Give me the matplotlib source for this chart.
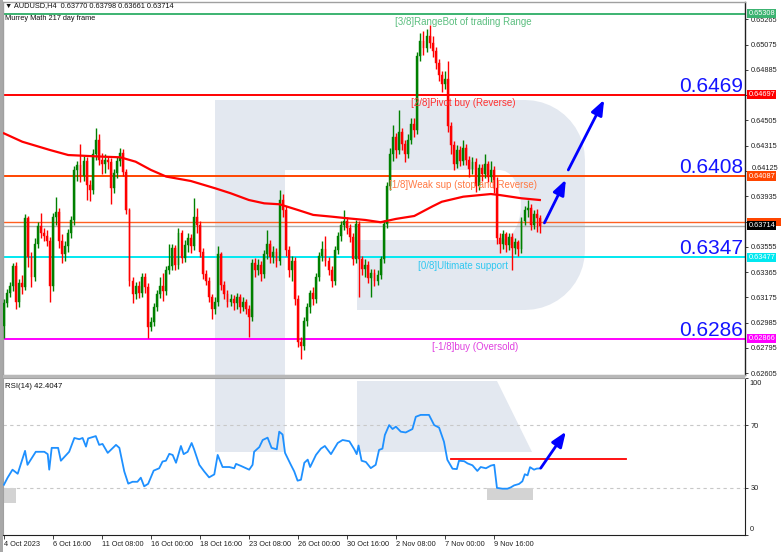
import matplotlib
matplotlib.use("Agg")
import matplotlib.pyplot as plt
from matplotlib.patches import Rectangle, Polygon
from matplotlib.transforms import Affine2D, blended_transform_factory
import numpy as np

# ---------------- data ----------------
first_open = 0.6296
closes = [0.6313, 0.6321, 0.6326, 0.6341, 0.6314, 0.6328, 0.6325, 0.6377, 0.6348, 0.6333,
          0.6358, 0.6371, 0.6366, 0.6364, 0.6360, 0.6326, 0.6378, 0.6382, 0.6360, 0.6350,
          0.6356, 0.6366, 0.6376, 0.6413, 0.6417, 0.6409, 0.6420, 0.6402, 0.6398, 0.6425,
          0.6436, 0.6421, 0.6418, 0.6421, 0.6419, 0.6400, 0.6411, 0.6420, 0.6426, 0.6412,
          0.6383, 0.6330, 0.6320, 0.6326, 0.6321, 0.6333, 0.6325, 0.6295, 0.6299, 0.6310,
          0.6320, 0.6326, 0.6322, 0.6338, 0.6341, 0.6355, 0.6342, 0.6366, 0.6347, 0.6357,
          0.6362, 0.6356, 0.6378, 0.6372, 0.6352, 0.6335, 0.6330, 0.6318, 0.6309, 0.6314,
          0.6350, 0.6327, 0.6320, 0.6314, 0.6316, 0.6313, 0.6318, 0.6310, 0.6314, 0.6309,
          0.6303, 0.6343, 0.6338, 0.6342, 0.6335, 0.6350, 0.6358, 0.6348, 0.6352, 0.6345,
          0.6391, 0.6383, 0.6353, 0.6338, 0.6345, 0.6316, 0.6284, 0.6281, 0.6300, 0.6310,
          0.6321, 0.6316, 0.6333, 0.6349, 0.6354, 0.6345, 0.6338, 0.6330, 0.6353, 0.6364,
          0.6372, 0.6375, 0.6370, 0.6363, 0.6346, 0.6373, 0.6346, 0.6339, 0.6342, 0.6332,
          0.6336, 0.6330, 0.6334, 0.6346, 0.6373, 0.6401, 0.6425, 0.6438, 0.6428, 0.6442,
          0.6433, 0.6425, 0.6436, 0.6448, 0.6443, 0.6499, 0.6510, 0.6505, 0.6514, 0.6509,
          0.6503, 0.6494, 0.6485, 0.6478, 0.6482, 0.6446, 0.6432, 0.6418, 0.6428, 0.6420,
          0.6430, 0.6421, 0.6414, 0.6419, 0.6401, 0.6415, 0.6410, 0.6418, 0.6408, 0.6413,
          0.6400, 0.6362, 0.6358, 0.6365, 0.6357, 0.6363, 0.6355, 0.6359, 0.6354, 0.6375,
          0.6383, 0.6385, 0.6372, 0.6380, 0.6377, 0.63714]
highs = [0.6316, 0.6324, 0.6329, 0.6343, 0.6344, 0.6331, 0.6334, 0.6380, 0.6379, 0.6352,
         0.6362, 0.6374, 0.6381, 0.6370, 0.6368, 0.6363, 0.6381, 0.6393, 0.6385, 0.6365,
         0.6360, 0.6369, 0.6379, 0.6416, 0.6420, 0.6433, 0.6424, 0.6423, 0.6406, 0.6429,
         0.6445, 0.6440, 0.6426, 0.6425, 0.6424, 0.6422, 0.6414, 0.6423, 0.6430, 0.6429,
         0.6414, 0.6385, 0.6333, 0.6329, 0.6330, 0.6336, 0.6336, 0.6328, 0.6303, 0.6313,
         0.6323, 0.6333, 0.6336, 0.6341, 0.6358, 0.6358, 0.6357, 0.6370, 0.6368, 0.6361,
         0.6366, 0.6365, 0.6392, 0.6385, 0.6375, 0.6355, 0.6338, 0.6333, 0.6320, 0.6318,
         0.6356, 0.6352, 0.6330, 0.6323, 0.6320, 0.6319, 0.6321, 0.6320, 0.6318, 0.6316,
         0.6312, 0.6346, 0.6347, 0.6346, 0.6345, 0.6353, 0.6368, 0.6361, 0.6356, 0.6355,
         0.6398, 0.6395, 0.6386, 0.6356, 0.6349, 0.6348, 0.6319, 0.6288, 0.6303, 0.6313,
         0.6323, 0.6325, 0.6336, 0.6352, 0.6360, 0.6364, 0.6348, 0.6341, 0.6356, 0.6367,
         0.6375, 0.6383, 0.6378, 0.6373, 0.6366, 0.6376, 0.6375, 0.6349, 0.6346, 0.6345,
         0.6339, 0.6339, 0.6338, 0.6349, 0.6376, 0.6404, 0.6430, 0.6447, 0.6441, 0.6458,
         0.6445, 0.6436, 0.6440, 0.6452, 0.6452, 0.6502, 0.6516, 0.6518, 0.6519, 0.6522,
         0.6514, 0.6506, 0.6497, 0.6488, 0.6488, 0.6495, 0.6449, 0.6435, 0.6432, 0.6431,
         0.6436, 0.6433, 0.6424, 0.6423, 0.6422, 0.6418, 0.6418, 0.6425, 0.6420, 0.6420,
         0.6416, 0.6408, 0.6366, 0.6368, 0.6367, 0.6366, 0.6366, 0.6362, 0.6361, 0.6378,
         0.6386, 0.6391, 0.6388, 0.6383, 0.6384, 0.63798]
lows = [0.6287, 0.6310, 0.6318, 0.6322, 0.6309, 0.6310, 0.6320, 0.6323, 0.6340, 0.6325,
        0.6330, 0.6355, 0.6362, 0.6360, 0.6356, 0.6314, 0.6322, 0.6372, 0.6355, 0.6343,
        0.6345, 0.6352, 0.6362, 0.6372, 0.6405, 0.6404, 0.6405, 0.6391, 0.6390, 0.6395,
        0.6421, 0.6417, 0.6410, 0.6411, 0.6414, 0.6388, 0.6396, 0.6407, 0.6416, 0.6409,
        0.6380, 0.6326, 0.6313, 0.6316, 0.6317, 0.6318, 0.6321, 0.6287, 0.6292, 0.6296,
        0.6307, 0.6317, 0.6315, 0.6319, 0.6335, 0.6338, 0.6338, 0.6339, 0.6343, 0.6344,
        0.6352, 0.6351, 0.6353, 0.6366, 0.6348, 0.6331, 0.6327, 0.6314, 0.6301, 0.6305,
        0.6311, 0.6323, 0.6316, 0.6310, 0.6311, 0.6308, 0.6309, 0.6306, 0.6307, 0.6305,
        0.6288, 0.6300, 0.6333, 0.6334, 0.6330, 0.6332, 0.6346, 0.6343, 0.6343, 0.6340,
        0.6342, 0.6378, 0.6349, 0.6333, 0.6330, 0.6312, 0.6280, 0.6271, 0.6278, 0.6296,
        0.6306, 0.6312, 0.6313, 0.6330, 0.6345, 0.6341, 0.6334, 0.6325, 0.6327, 0.6350,
        0.6360, 0.6368, 0.6365, 0.6359, 0.6342, 0.6343, 0.6318, 0.6334, 0.6333, 0.6328,
        0.6318, 0.6326, 0.6327, 0.6331, 0.6343, 0.6370, 0.6398, 0.6420, 0.6422, 0.6425,
        0.6428, 0.6419, 0.6422, 0.6433, 0.6438, 0.6440, 0.6495, 0.6500, 0.6502, 0.6505,
        0.6498, 0.6489, 0.6480, 0.6472, 0.6474, 0.6442, 0.6425, 0.6413, 0.6415, 0.6416,
        0.6417, 0.6417, 0.6408, 0.6410, 0.6397, 0.6398, 0.6405, 0.6407, 0.6404, 0.6404,
        0.6396, 0.6358, 0.6351, 0.6354, 0.6352, 0.6353, 0.6338, 0.6350, 0.6349, 0.6351,
        0.6372, 0.6378, 0.6368, 0.6369, 0.6367, 0.63661]

ma_idx = [0, 6, 15, 21, 32, 38, 43, 48, 53, 61, 69, 74, 80, 85, 90, 96, 101, 107, 112,
          118, 123, 128, 134, 140, 143, 150, 159, 162, 169, 175]
ma_val = [0.64408, 0.64345, 0.64283, 0.64245, 0.64233, 0.64228, 0.64195, 0.64133, 0.64083,
          0.64050, 0.63995, 0.63958, 0.63907, 0.63882, 0.63875, 0.63832, 0.63795, 0.63782,
          0.63770, 0.63757, 0.63740, 0.63765, 0.63787, 0.63860, 0.63894, 0.63932, 0.63952,
          0.63944, 0.63920, 0.63907]

rsi_idx = [0, 1.2, 2.8, 4.5, 6.9, 7.7, 10.4, 13.2, 14.3, 14.8, 15.6, 17.7, 18.6, 21.3, 23,
           24.6, 25.7, 26.8, 27.5, 30, 31.1, 32.2, 33.9, 36.6, 37.7, 39.3, 40.6, 42, 43.6,
           44.7, 45.8, 47.1, 48.9, 50.7, 51.8, 52.9, 54, 55.1, 56.2, 57.8, 58.7, 60, 61.3,
           62.1, 63.8, 65.4, 67, 68.7, 69.8, 71.4, 73.6, 75.2, 75.8, 77.4, 80.1, 81.2, 81.7,
           83.4, 84.5, 86.1, 87.4, 89.1, 89.9, 91, 91.8, 93.7, 94.8, 95.9, 97, 98.1, 99.2,
           100, 101.9, 103.5, 104.8, 106.8, 109, 110.6, 112.8, 114.4, 115.2, 115.8, 116.8,
           118.2, 119.8, 121.4, 122.5, 123.6, 124.4, 125.8, 126.9, 128, 129.6, 131.2, 133.4,
           134.5, 136.1, 138.8, 140.5, 142.1, 143.7, 144.8, 146.5, 147.9, 148.6, 150.3,
           151.4, 153, 154.6, 155.7, 157.4, 159, 160.1, 161, 162.8, 164.4, 165.5, 166.6,
           168.2, 169.3, 170.1, 171, 171.8, 173.1, 174, 175]
rsi_val = [32, 36.5, 41.6, 39, 53.6, 44.7, 53, 53, 51.5, 41.6, 55.5, 55.5, 47.3, 53, 61.8,
           61, 61.8, 56.3, 61.5, 63, 57.4, 58, 52.3, 57.4, 55.5, 40.5, 32.7, 33.9, 33.9,
           36.5, 31, 32.6, 41, 42.5, 46.8, 47.3, 51.7, 51, 46, 56.7, 51.5, 53, 58.6,
           54.6, 44.7, 40.5, 36.7, 38.6, 51, 43.3, 43.3, 42.5, 45.3, 44, 41.6, 44.7, 53,
           56, 60.5, 62, 55.5, 54.6, 65.8, 64, 52.3, 44.7, 40.5, 34.6, 35.2, 46, 48,
           43.3, 51, 55, 56.7, 51.5, 58.6, 60.5, 59.7, 54.6, 51.5, 57, 47.3,
           46.5, 42.6, 44.7, 54.2, 55, 63.7, 70, 67.5, 69, 65.8, 65.3, 67.5,
           75.3, 76.5, 76.5, 70, 68.4, 59.4, 47.9, 42.2, 42, 47.3, 47,
           45.6, 44.4, 40.8, 43.3, 42.5, 44.2, 44.7, 30, 29.5, 29.5, 30.3, 31.6,
           32.5, 34.2, 38.7, 38, 43.2, 41.6, 42.3, 42.4]

murrey_prices = [0.65308, 0.64697, 0.64087, 0.63477, 0.62866]
murrey_texts = ["[3/8]RangeBot of trading Range", "[2/8]Pivot buy (Reverse)",
                "[1/8]Weak sup (stop and Reverse)", "[0/8]Ultimate support",
                "[-1/8]buy (Oversold)"]
murrey_line_colors = ["#3cb371", "#ff0000", "#ff4500", "#00e8f0", "#ff00ff"]
murrey_text_colors = ["#5cbf80", "#ff3030", "#ff7a45", "#30c8f0", "#e040e0"]
murrey_label_x = [150, 150, 150, 150, 154]
murrey_box_labels = ["0.65308", "0.64697", "0.64087", "0.63477", "0.62866"]

big_labels = ["0.6469", "0.6408", "0.6347", "0.6286"]
big_label_prices = [0.64697, 0.64087, 0.63477, 0.62866]

# price axis ticks (0.64695 and 0.63745 are hidden under level boxes in the reference)
price_tick_vals = [0.62605, 0.62795, 0.62985, 0.63175, 0.63365, 0.63555, 0.63745, 0.63935,
                   0.64125, 0.64315, 0.64505, 0.64695, 0.64885, 0.65075, 0.65265]
price_tick_labels = ["0.62605", "0.62795", "0.62985", "0.63175", "0.63365", "0.63555",
                     "", "0.63935", "", "0.64315", "0.64505", "",
                     "0.64885", "0.65075", "0.65265"]
squeezed_tick_val = 0.64125
squeezed_tick_label = "0.64125"

orange_level = 0.63742
bid_level = 0.63714

date_tick_idx = [0, 16, 32, 48, 64, 80, 96, 112, 128, 144, 160]
date_tick_labels = ["4 Oct 2023", "6 Oct 16:00", "11 Oct 08:00", "16 Oct 00:00",
                    "18 Oct 16:00", "23 Oct 08:00", "26 Oct 00:00", "30 Oct 16:00",
                    "2 Nov 08:00", "7 Nov 00:00", "9 Nov 16:00"]

arrow_main = [((176.5, 0.63735), (183.5, 0.64060)), ((184.3, 0.64133), (196.0, 0.64660))]
arrow_rsi = ((175.3, 42.6), (183.5, 65.8))
rsi_hline = (146, 203, 48.5)
rsi_boxes = [(-0.3, 3.9, 20.6, 30.0), (157.7, 172.7, 22.0, 30.0)]

# ---------------- figure ----------------
W, H = 782, 552
fig = plt.figure(figsize=(W / 100, H / 100), dpi=100)
fig.patch.set_facecolor("white")
TXT = ["Liberation Sans", "DejaVu Sans"]


def fx(px):
    return px / W


def fy(py):
    return 1 - py / H


ax = fig.add_axes([fx(3), fy(375), fx(745) - fx(3), fy(2) - fy(375)])
axr = fig.add_axes([fx(3), fy(535), fx(745) - fx(3), fy(378) - fy(535)])
pix = Affine2D().scale(1 / W, -1 / H).translate(0, 1) + fig.transFigure

WM = "#e3e8f0"
# watermark (screen overlay) main panel
outer = [(215, 100), (525, 100)]
for a in np.linspace(90, 0, 12):
    outer.append((525 + 60 * np.cos(np.radians(a)), 160 - 60 * np.sin(np.radians(a))))
for a in np.linspace(0, -90, 12):
    outer.append((525 + 60 * np.cos(np.radians(a)), 250 - 60 * np.sin(np.radians(a))))
outer += [(357, 310), (357, 240), (500, 240)]
for a in np.linspace(-90, 90, 14):
    outer.append((500 + 35 * np.cos(np.radians(a)) * 0.6, 205 - 35 * np.sin(np.radians(a))))
outer += [(500, 170), (285, 170), (285, 380), (215, 380)]
ax.add_patch(Polygon(outer, closed=True, transform=pix, fc=WM, ec="none", zorder=0))
axr.add_patch(Rectangle((215, 370), 70, 82, transform=pix, fc=WM, ec="none", zorder=0))
axr.add_patch(Polygon([(357, 381), (497, 381), (532, 452), (357, 452)], transform=pix,
                      fc=WM, ec="none", zorder=0))

# ---------------- main panel ----------------
n = len(closes)
opens = [first_open] + closes[:-1]
idx = np.arange(n)
o = np.array(opens)
c = np.array(closes)
h = np.array(highs)
l = np.array(lows)
up = c >= o
colors = np.where(up, "#008000", "#ff0000")
ax.vlines(idx, l, h, colors=colors, lw=1.0, zorder=4)
body_bottom = np.minimum(o, c)
body_h = np.maximum(np.abs(c - o), 0.00003)
ax.bar(idx, body_h, bottom=body_bottom, width=0.62, color=colors, edgecolor=colors,
       lw=0.3, zorder=5)

for p, col in zip(murrey_prices, murrey_line_colors):
    ax.axhline(p, color=col, lw=1.4, zorder=2)
ax.axhline(orange_level, color="#ff6020", lw=1.0, zorder=2)
ax.axhline(bid_level, color="#b0b0b0", lw=1.0, zorder=2)

ax.plot(ma_idx, ma_val, color="#ff0000", lw=1.6, zorder=6)

for txt, p, col, xx in zip(murrey_texts, murrey_prices, murrey_text_colors, murrey_label_x):
    ax.annotate(txt, xy=(xx, p), xytext=(0, -2.5), textcoords="offset points",
                ha="center", va="top", fontsize=7, color=col, family=TXT, zorder=7)

blend = blended_transform_factory(ax.transAxes, ax.transData)
for txt, p in zip(big_labels, big_label_prices):
    ax.annotate(txt, xy=(1.0, p), xycoords=blend, xytext=(-1.2, 2.0),
                textcoords="offset points", ha="right", va="baseline", fontsize=15,
                color="#1414ff", family=TXT, zorder=8)

for (s, e) in arrow_main:
    ax.annotate("", xy=e, xytext=s,
                arrowprops=dict(arrowstyle="-|>,head_length=0.9,head_width=0.35",
                                color="#0000ff", lw=2.0, mutation_scale=10,
                                shrinkA=0, shrinkB=0), zorder=9)

ax.set_xlim(-0.3, 242.0)
ax.set_ylim(0.62592, 0.65395)
ax.set_yticks(price_tick_vals)
ax.set_yticklabels(price_tick_labels)
ax.yaxis.tick_right()
ax.tick_params(axis="y", direction="out", length=2.5, width=0.6, pad=1.5,
               labelsize=5.3, colors="#202020")
for lab in ax.get_yticklabels():
    lab.set_family(TXT)
ax.set_xticks([])
for side in ["top", "left", "bottom"]:
    ax.spines[side].set_color("#a0a0a0")
    ax.spines[side].set_linewidth(1.0)
ax.spines["right"].set_color("#202020")
ax.spines["right"].set_linewidth(1.0)

# tick label squeezed just above the 1/8 level box
ax.annotate(squeezed_tick_label, xy=(1.0, squeezed_tick_val), xycoords=blend,
            xytext=(4.5, 1.6), textcoords="offset points", ha="left", va="center",
            fontsize=5.3, family=TXT, color="#202020", annotation_clip=False)

# orange level box peeking out behind the bid box
ax.add_patch(Rectangle((1.003, orange_level - 0.00030), 0.046, 0.00060, transform=blend,
                       fc="#ff4500", ec="none", clip_on=False, zorder=9))
box_levels = murrey_prices[:3] + [bid_level] + murrey_prices[3:]
box_texts = murrey_box_labels[:3] + ["0.63714"] + murrey_box_labels[3:]
box_colors = ["#3cb371", "#ff0000", "#ff4500", "#000000", "#00e8f0", "#ff00ff"]
for p, t, col in zip(box_levels, box_texts, box_colors):
    ax.text(1.0045, p, t, transform=blend, ha="left", va="center", fontsize=5.3,
            color="white", family=TXT, clip_on=False, zorder=10,
            bbox=dict(boxstyle="square,pad=0.15", fc=col, ec="none"))

fig.text(fx(5), fy(6), "\u25bc AUDUSD,H4  0.63770 0.63798 0.63661 0.63714", fontsize=5.3,
         family=TXT, color="#101010", va="center", ha="left")
fig.text(fx(5), fy(18), "Murrey Math 217 day frame", fontsize=5.3, family=TXT,
         color="#101010", va="center", ha="left")

# ---------------- RSI panel ----------------
axr.plot(rsi_idx, rsi_val, color="#1e90ff", lw=1.3, zorder=5)
for lvl in [70, 30]:
    axr.axhline(lvl, color="#c8c8c8", lw=0.8, ls=(0, (3, 3)), zorder=1)
for (x0, x1, y0, y1) in rsi_boxes:
    axr.add_patch(Rectangle((x0, y0), x1 - x0, y1 - y0, fc="#d3d3d3", ec="none", zorder=2))
axr.plot([rsi_hline[0], rsi_hline[1]], [rsi_hline[2], rsi_hline[2]], color="#ff0000",
         lw=1.3, zorder=6)
axr.annotate("", xy=arrow_rsi[1], xytext=arrow_rsi[0],
             arrowprops=dict(arrowstyle="-|>,head_length=0.9,head_width=0.35",
                             color="#0000ff", lw=2.0, mutation_scale=10,
                             shrinkA=0, shrinkB=0), zorder=9)
axr.set_xlim(-0.3, 242.0)
axr.set_ylim(0, 100)
axr.yaxis.tick_right()
axr.set_yticks([0, 30, 70, 100])
axr.set_yticklabels(["", "30", "70", ""])
axr.tick_params(axis="y", direction="out", length=2.5, width=0.6, pad=1.5,
                labelsize=5.3, colors="#202020")
rblend = blended_transform_factory(axr.transAxes, axr.transData)
axr.text(1.006, 99, "100", transform=rblend, ha="left", va="top", fontsize=5.3,
         family=TXT, color="#202020")
axr.text(1.006, 1.5, "0", transform=rblend, ha="left", va="bottom", fontsize=5.3,
         family=TXT, color="#202020")
axr.set_xticks(date_tick_idx)
axr.set_xticklabels(date_tick_labels)
axr.tick_params(axis="x", direction="out", length=3, width=0.6, pad=1.0,
                labelsize=5.3, colors="#202020")
for lab in axr.get_xticklabels() + axr.get_yticklabels():
    lab.set_family(TXT)
for lab in axr.get_xticklabels():
    lab.set_ha("left")
for side in ["top", "left"]:
    axr.spines[side].set_color("#a0a0a0")
for side in ["right", "bottom"]:
    axr.spines[side].set_color("#202020")
axr.text(0.003, 0.965, "RSI(14) 42.4047", transform=axr.transAxes, fontsize=5.6,
         family=TXT, color="#101010", va="top", ha="left")

# frame decorations
fig.add_artist(Rectangle((0, 0), 3, H, transform=pix, fc="#a8a8a8", ec="none", zorder=0))
fig.add_artist(Rectangle((3, 375), 742, 3, transform=pix, fc="#b8b8b8", ec="none"))

fig.savefig("out.png", dpi=100, facecolor="white")
